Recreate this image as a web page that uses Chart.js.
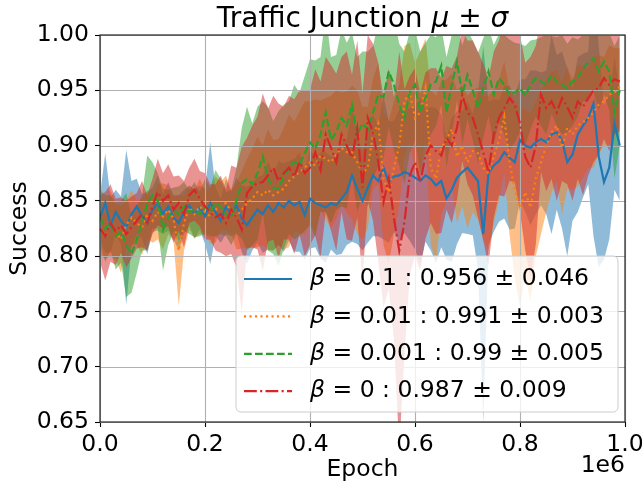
<!DOCTYPE html>
<html>
<head>
<meta charset="utf-8">
<title>Traffic Junction</title>
<script src="https://cdn.jsdelivr.net/npm/chart.js@4.4.0/dist/chart.umd.min.js"></script>
<style>
    html, body { margin: 0; padding: 0; background: #fff; }
    #myChart { display: block; }
</style>
</head>
<body>
<canvas id="myChart" width="642" height="486"></canvas>
<script>
"use strict"

// EPOCHS IN UNITS OF 1e6
const epochs = [
    0.00, 0.01, 0.02, 0.03, 0.04, 0.05, 0.06, 0.07, 0.08, 0.09,
    0.10, 0.11, 0.12, 0.13, 0.14, 0.15, 0.16, 0.17, 0.18, 0.19,
    0.20, 0.21, 0.22, 0.23, 0.24, 0.25, 0.26, 0.27, 0.28, 0.29,
    0.30, 0.31, 0.32, 0.33, 0.34, 0.35, 0.36, 0.37, 0.38, 0.39,
    0.40, 0.41, 0.42, 0.43, 0.44, 0.45, 0.46, 0.47, 0.48, 0.49,
    0.50, 0.51, 0.52, 0.53, 0.54, 0.55, 0.56, 0.57, 0.58, 0.59,
    0.60, 0.61, 0.62, 0.63, 0.64, 0.65, 0.66, 0.67, 0.68, 0.69,
    0.70, 0.71, 0.72, 0.73, 0.74, 0.75, 0.76, 0.77, 0.78, 0.79,
    0.80, 0.81, 0.82, 0.83, 0.84, 0.85, 0.86, 0.87, 0.88, 0.89,
    0.90, 0.91, 0.92, 0.93, 0.94, 0.95, 0.96, 0.97, 0.98, 0.99
];

// BETA = 0.1
const blueMean = [
    0.835, 0.848, 0.828, 0.84, 0.832, 0.826, 0.838, 0.845, 0.836, 0.83,
    0.842, 0.848, 0.838, 0.845, 0.835, 0.83, 0.84, 0.846, 0.838, 0.844,
    0.836, 0.848, 0.84, 0.832, 0.845, 0.838, 0.846, 0.834, 0.828, 0.835,
    0.842, 0.838, 0.846, 0.84, 0.848, 0.844, 0.85, 0.846, 0.849, 0.837,
    0.852, 0.848, 0.846, 0.844, 0.848, 0.846, 0.852, 0.858, 0.873, 0.861,
    0.85, 0.862, 0.873, 0.868, 0.88, 0.867, 0.872, 0.873, 0.876, 0.874,
    0.871, 0.868, 0.873, 0.87, 0.864, 0.868, 0.852, 0.86, 0.871, 0.876,
    0.88, 0.874, 0.868, 0.82, 0.875, 0.882, 0.886, 0.894, 0.889, 0.885,
    0.905, 0.9, 0.898, 0.903, 0.906, 0.903, 0.91, 0.912, 0.905, 0.885,
    0.892, 0.91, 0.918, 0.925, 0.938, 0.89, 0.867, 0.88, 0.92, 0.9
];
const blueStd = [
    0.02, 0.045, 0.025, 0.02, 0.022, 0.07, 0.03, 0.025, 0.02, 0.028,
    0.02, 0.025, 0.018, 0.022, 0.02, 0.025, 0.02, 0.018, 0.022, 0.02,
    0.025, 0.055, 0.022, 0.02, 0.025, 0.02, 0.025, 0.03, 0.035, 0.03,
    0.03, 0.035, 0.04, 0.035, 0.038, 0.04, 0.036, 0.042, 0.045, 0.04,
    0.045, 0.04, 0.048, 0.05, 0.042, 0.045, 0.05, 0.048, 0.06, 0.05,
    0.045, 0.05, 0.055, 0.05, 0.065, 0.055, 0.05, 0.06, 0.055, 0.06,
    0.065, 0.075, 0.06, 0.065, 0.07, 0.06, 0.055, 0.065, 0.06, 0.055,
    0.06, 0.055, 0.08, 0.17, 0.065, 0.06, 0.055, 0.06, 0.065, 0.06,
    0.055, 0.06, 0.07, 0.065, 0.06, 0.065, 0.09, 0.07, 0.08, 0.085,
    0.06, 0.07, 0.065, 0.06, 0.12, 0.1, 0.07, 0.065, 0.06, 0.05
];

// BETA = 0.01
const orangeMean = [
    0.825, 0.818, 0.83, 0.822, 0.815, 0.828, 0.835, 0.83, 0.826, 0.838,
    0.832, 0.84, 0.836, 0.842, 0.834, 0.805, 0.83, 0.844, 0.838, 0.845,
    0.84, 0.836, 0.842, 0.845, 0.848, 0.84, 0.836, 0.842, 0.848, 0.852,
    0.858, 0.855, 0.86, 0.855, 0.858, 0.861, 0.868, 0.872, 0.876, 0.88,
    0.885, 0.882, 0.891, 0.888, 0.885, 0.892, 0.898, 0.894, 0.894, 0.885,
    0.875, 0.88, 0.91, 0.92, 0.87, 0.858, 0.88, 0.9, 0.94, 0.948,
    0.925, 0.93, 0.952, 0.88, 0.87, 0.898, 0.905, 0.915, 0.89, 0.9,
    0.885, 0.895, 0.893, 0.88, 0.875, 0.89, 0.905, 0.926, 0.885, 0.86,
    0.844, 0.858, 0.844, 0.87, 0.885, 0.9, 0.912, 0.918, 0.898, 0.916,
    0.91, 0.918, 0.921, 0.925, 0.93, 0.937, 0.94, 0.946, 0.948, 0.953
];
const orangeStd = [
    0.025, 0.02, 0.03, 0.025, 0.03, 0.022, 0.025, 0.02, 0.025, 0.022,
    0.02, 0.025, 0.03, 0.022, 0.02, 0.05, 0.025, 0.02, 0.022, 0.025,
    0.02, 0.025, 0.03, 0.022, 0.025, 0.02, 0.03, 0.035, 0.04, 0.045,
    0.05, 0.045, 0.055, 0.05, 0.048, 0.055, 0.06, 0.05, 0.055, 0.06,
    0.055, 0.06, 0.05, 0.055, 0.06, 0.058, 0.05, 0.055, 0.06, 0.065,
    0.06, 0.055, 0.05, 0.055, 0.06, 0.065, 0.06, 0.055, 0.05, 0.045,
    0.05, 0.055, 0.045, 0.07, 0.075, 0.06, 0.055, 0.05, 0.06, 0.055,
    0.06, 0.055, 0.06, 0.065, 0.07, 0.06, 0.055, 0.05, 0.065, 0.08,
    0.09, 0.075, 0.085, 0.07, 0.065, 0.06, 0.055, 0.05, 0.06, 0.055,
    0.05, 0.055, 0.05, 0.045, 0.05, 0.045, 0.04, 0.045, 0.04, 0.035
];

// BETA = 0.001
const greenMean = [
    0.835, 0.825, 0.83, 0.818, 0.822, 0.81, 0.802, 0.815, 0.83, 0.848,
    0.855, 0.85, 0.824, 0.835, 0.842, 0.838, 0.845, 0.84, 0.842, 0.838,
    0.845, 0.84, 0.848, 0.845, 0.838, 0.835, 0.85, 0.866, 0.87, 0.865,
    0.875, 0.89, 0.87, 0.862, 0.861, 0.872, 0.88, 0.885, 0.883, 0.893,
    0.903, 0.897, 0.91, 0.93, 0.905, 0.912, 0.925, 0.918, 0.937, 0.91,
    0.92, 0.915, 0.93, 0.946, 0.944, 0.967, 0.955, 0.937, 0.925, 0.948,
    0.955, 0.93, 0.943, 0.955, 0.958, 0.972, 0.93, 0.955, 0.976, 0.946,
    0.964, 0.95, 0.934, 0.952, 0.967, 0.946, 0.961, 0.955, 0.946, 0.948,
    0.952, 0.945, 0.955, 0.961, 0.958, 0.955, 0.964, 0.958, 0.955, 0.952,
    0.958, 0.961, 0.97, 0.975, 0.979, 0.967, 0.976, 0.967, 0.93, 0.95
];
const greenStd = [
    0.025, 0.03, 0.025, 0.03, 0.028, 0.047, 0.035, 0.03, 0.025, 0.043,
    0.03, 0.025, 0.037, 0.025, 0.02, 0.025, 0.022, 0.02, 0.025, 0.02,
    0.025, 0.022, 0.03, 0.025, 0.02, 0.025, 0.03, 0.05, 0.065, 0.055,
    0.06, 0.05, 0.065, 0.06, 0.07, 0.065, 0.06, 0.07, 0.065, 0.07,
    0.075, 0.08, 0.07, 0.09, 0.075, 0.07, 0.08, 0.075, 0.065, 0.07,
    0.065, 0.07, 0.06, 0.065, 0.055, 0.05, 0.06, 0.055, 0.06, 0.055,
    0.05, 0.055, 0.05, 0.045, 0.04, 0.035, 0.05, 0.045, 0.035, 0.045,
    0.04, 0.045, 0.05, 0.045, 0.04, 0.045, 0.04, 0.045, 0.05, 0.045,
    0.04, 0.045, 0.04, 0.035, 0.04, 0.045, 0.035, 0.04, 0.045, 0.04,
    0.04, 0.035, 0.03, 0.035, 0.03, 0.035, 0.03, 0.035, 0.06, 0.05
];

// BETA = 0
const redMean = [
    0.825, 0.818, 0.83, 0.822, 0.828, 0.82, 0.826, 0.832, 0.838, 0.83,
    0.845, 0.858, 0.85, 0.855, 0.842, 0.848, 0.838, 0.855, 0.86, 0.852,
    0.845, 0.84, 0.835, 0.838, 0.83, 0.842, 0.835, 0.824, 0.857, 0.863,
    0.866, 0.867, 0.873, 0.88, 0.868, 0.875, 0.88, 0.872, 0.885, 0.875,
    0.88, 0.894, 0.878, 0.91, 0.898, 0.885, 0.91, 0.9, 0.889, 0.915,
    0.862, 0.925, 0.912, 0.885, 0.849, 0.87, 0.834, 0.805, 0.831, 0.873,
    0.885, 0.867, 0.891, 0.9, 0.895, 0.891, 0.907, 0.9, 0.916, 0.946,
    0.93, 0.925, 0.91, 0.894, 0.876, 0.91, 0.925, 0.934, 0.943, 0.937,
    0.92, 0.89, 0.88, 0.9, 0.946, 0.934, 0.94, 0.93, 0.943, 0.935,
    0.925, 0.94, 0.935, 0.943, 0.95, 0.952, 0.961, 0.955, 0.96, 0.958
];
const redStd = [
    0.03, 0.04, 0.035, 0.03, 0.025, 0.03, 0.028, 0.025, 0.03, 0.025,
    0.025, 0.03, 0.025, 0.028, 0.03, 0.025, 0.03, 0.025, 0.028, 0.025,
    0.03, 0.025, 0.03, 0.035, 0.03, 0.04, 0.045, 0.075, 0.05, 0.055,
    0.06, 0.08, 0.06, 0.065, 0.07, 0.06, 0.065, 0.07, 0.065, 0.075,
    0.07, 0.075, 0.08, 0.07, 0.075, 0.08, 0.07, 0.085, 0.075, 0.08,
    0.085, 0.075, 0.08, 0.09, 0.095, 0.1, 0.11, 0.18, 0.12, 0.09,
    0.085, 0.08, 0.075, 0.07, 0.075, 0.07, 0.065, 0.07, 0.065, 0.06,
    0.065, 0.07, 0.075, 0.08, 0.085, 0.075, 0.07, 0.08, 0.075, 0.07,
    0.08, 0.085, 0.1, 0.09, 0.07, 0.075, 0.07, 0.08, 0.075, 0.07,
    0.075, 0.07, 0.08, 0.07, 0.065, 0.06, 0.055, 0.06, 0.05, 0.045
];

// LEGEND TEXT
const betas = ['0.1', '0.01', '0.001', '0'];
const scores = ['0.956 \u00b1 0.046', '0.991 \u00b1 0.003', '0.99 \u00b1 0.005', '0.987 \u00b1 0.009'];

// TICKS
const yTicks = [0.65, 0.70, 0.75, 0.80, 0.85, 0.90, 0.95, 1.00];
const xTicks = [0.0, 0.2, 0.4, 0.6, 0.8, 1.0];


const means = [blueMean, orangeMean, greenMean, redMean];
const stds = [blueStd, orangeStd, greenStd, redStd];
const colors = ['#1f77b4', '#ff7f0e', '#2ca02c', '#d62728'];
const fills = ['rgba(31,119,180,0.5)', 'rgba(255,127,14,0.5)', 'rgba(44,160,44,0.5)', 'rgba(214,39,40,0.5)'];
const dashes = [[], [2.1, 3.4], [7.7, 3.3], [12.8, 3.3, 2.1, 3.3]];
const FONT = "'DejaVu Sans', sans-serif";
const TXT = 23.5;

function pts(ys) {
    return epochs.map((x, i) => ({ x: x, y: ys[i] }));
}

// BANDS FIRST (0..7), THEN MEAN LINES (8..11)
let datasets = [];
for (let s = 0; s < 4; s++) {
    let lower = means[s].map((m, i) => m - stds[s][i]);
    let upper = means[s].map((m, i) => m + stds[s][i]);
    datasets.push({
        data: pts(lower),
        borderColor: 'rgba(0,0,0,0)',
        borderWidth: 0,
        pointRadius: 0,
        fill: false,
        order: 7 - s
    });
    datasets.push({
        data: pts(upper),
        borderColor: 'rgba(0,0,0,0)',
        borderWidth: 0,
        pointRadius: 0,
        backgroundColor: fills[s],
        fill: '-1',
        order: 7 - s
    });
}
for (let s = 0; s < 4; s++) {
    datasets.push({
        data: pts(means[s]),
        borderColor: colors[s],
        borderWidth: 2.2,
        borderDash: dashes[s],
        pointRadius: 0,
        fill: false,
        order: 3 - s
    });
}

// GRID ABOVE THE BANDS BUT BELOW THE LINES (like matplotlib)
const gridPlugin = {
    id: 'gridPlugin',
    beforeDatasetDraw(chart, args) {
        if (args.index !== 8) return;
        const ctx = chart.ctx;
        const a = chart.chartArea;
        ctx.save();
        ctx.strokeStyle = '#b0b0b0';
        ctx.lineWidth = 1.1;
        chart.scales.x.ticks.forEach(t => {
            let px = Math.round(chart.scales.x.getPixelForValue(t.value)) + 0.5;
            ctx.beginPath(); ctx.moveTo(px, a.top); ctx.lineTo(px, a.bottom); ctx.stroke();
        });
        chart.scales.y.ticks.forEach(t => {
            let py = Math.round(chart.scales.y.getPixelForValue(t.value)) + 0.5;
            ctx.beginPath(); ctx.moveTo(a.left, py); ctx.lineTo(a.right, py); ctx.stroke();
        });
        ctx.restore();
    }
};

// draw text pieces one after another, some italic
function drawRuns(ctx, runs, x, y, size, align) {
    let total = 0;
    runs.forEach(r => {
        ctx.font = (r.it ? 'italic ' : '') + size + 'px ' + FONT;
        total += ctx.measureText(r.t).width;
    });
    let cx = align === 'center' ? x - total / 2 : x;
    runs.forEach(r => {
        ctx.font = (r.it ? 'italic ' : '') + size + 'px ' + FONT;
        ctx.fillText(r.t, cx, y);
        cx += ctx.measureText(r.t).width;
    });
}

// FRAME, TITLE, LEGEND, OFFSET TEXT
const decoPlugin = {
    id: 'decoPlugin',
    afterDraw(chart) {
        const ctx = chart.ctx;
        const a = chart.chartArea;
        ctx.save();

        // frame
        ctx.strokeStyle = '#262626';
        ctx.lineWidth = 1.2;
        ctx.strokeRect(a.left, a.top, a.right - a.left, a.bottom - a.top);

        // title
        ctx.fillStyle = '#000';
        ctx.textBaseline = 'alphabetic';
        drawRuns(ctx, [
            { t: 'Traffic Junction ' },
            { t: '\u03bc', it: true },
            { t: ' \u00b1 ' },
            { t: '\u03c3', it: true }
        ], (a.left + a.right) / 2, 27, 28, 'center');

        // offset text
        ctx.font = TXT + 'px ' + FONT;
        ctx.textAlign = 'right';
        ctx.textBaseline = 'middle';
        ctx.fillText('1e6', a.right, 466);
        ctx.textAlign = 'left';

        // legend box
        let bx = 236, by = 256, bw = 382, bh = 156, r = 5;
        ctx.beginPath();
        ctx.moveTo(bx + r, by);
        ctx.arcTo(bx + bw, by, bx + bw, by + bh, r);
        ctx.arcTo(bx + bw, by + bh, bx, by + bh, r);
        ctx.arcTo(bx, by + bh, bx, by, r);
        ctx.arcTo(bx, by, bx + bw, by, r);
        ctx.closePath();
        ctx.fillStyle = 'rgba(255,255,255,0.8)';
        ctx.fill();
        ctx.strokeStyle = '#cccccc';
        ctx.lineWidth = 1;
        ctx.stroke();

        for (let s = 0; s < 4; s++) {
            let rowY = 279 + s * 37.4;
            ctx.beginPath();
            ctx.setLineDash(dashes[s]);
            ctx.strokeStyle = colors[s];
            ctx.lineWidth = 2.2;
            ctx.moveTo(244, rowY);
            ctx.lineTo(292, rowY);
            ctx.stroke();
            ctx.setLineDash([]);
            ctx.fillStyle = '#000';
            ctx.textBaseline = 'middle';
            drawRuns(ctx, [
                { t: '\u03b2', it: true },
                { t: ' = ' + betas[s] + ' : ' + scores[s] }
            ], 310, rowY, TXT, 'left');
        }
        ctx.restore();
    }
};

Chart.defaults.font.family = FONT;
Chart.defaults.font.size = TXT;
Chart.defaults.color = '#000';

let myChart = new Chart(document.getElementById('myChart'), {
    type: 'line',
    data: { datasets: datasets },
    options: {
        responsive: false,
        animation: false,
        events: [],
        layout: { padding: { top: 35, right: 17, left: 0, bottom: 0 } },
        plugins: {
            legend: { display: false },
            title: { display: false },
            tooltip: { enabled: false }
        },
        scales: {
            x: {
                type: 'linear',
                min: 0,
                max: 1,
                afterFit: (scale) => { scale.height = 64; scale.paddingLeft = 0; scale.paddingRight = 0; },
                afterBuildTicks: (scale) => { scale.ticks = xTicks.map(v => ({ value: v })); },
                ticks: { padding: 4, callback: v => v.toFixed(1), maxRotation: 0, autoSkip: false },
                grid: { drawOnChartArea: false, tickLength: 5, tickColor: '#000', tickWidth: 1.1 },
                border: { display: false },
                title: { display: true, text: 'Epoch', padding: { top: 0, bottom: 2 } }
            },
            y: {
                min: 0.65,
                max: 1.0,
                afterFit: (scale) => { scale.width = 100; scale.paddingTop = 0; scale.paddingBottom = 0; },
                afterBuildTicks: (scale) => { scale.ticks = yTicks.map(v => ({ value: v })); },
                ticks: { padding: 6, callback: v => v.toFixed(2), autoSkip: false },
                grid: { drawOnChartArea: false, tickLength: 5, tickColor: '#000', tickWidth: 1.1 },
                border: { display: false },
                title: { display: true, text: 'Success', padding: { top: 6, bottom: 0 } }
            }
        }
    },
    plugins: [gridPlugin, decoPlugin]
});
</script>
</body>
</html>
